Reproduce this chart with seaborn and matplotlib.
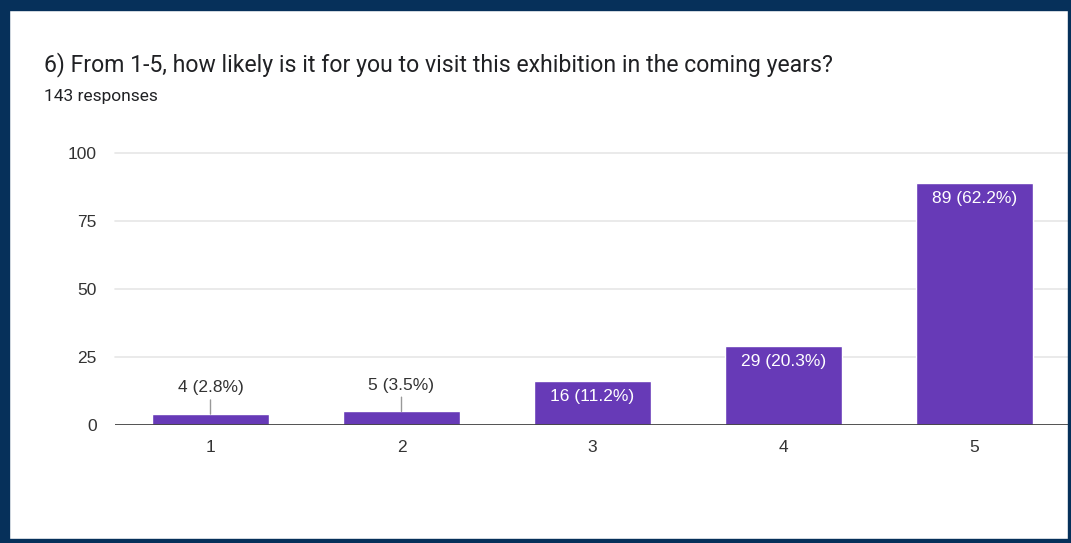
import matplotlib
matplotlib.use("Agg")
import matplotlib.pyplot as plt
import seaborn as sns
import pandas as pd
from matplotlib.patches import Rectangle

ratings = ["1", "2", "3", "4", "5"]
counts = [4, 5, 16, 29, 89]
percents = [2.8, 3.5, 11.2, 20.3, 62.2]
yticks = [0, 25, 50, 75, 100]

title = "6) From 1-5, how likely is it for you to visit this exhibition in the coming years?"
subtitle = "143 responses"

df = pd.DataFrame({"rating": ratings, "count": counts})

sns.set_theme(style="white")
plt.rcParams["font.family"] = ["Liberation Sans", "DejaVu Sans"]

fig = plt.figure(figsize=(10.71, 5.43), dpi=100)
ax = fig.add_axes([115 / 1071, 1 - 425 / 543, 955 / 1071, 272 / 543])

sns.barplot(data=df, x="rating", y="count", color="#673ab7", saturation=1,
            width=0.615, ax=ax, zorder=3)

ax.set_xlim(-0.5, 4.5)
ax.set_ylim(0, 100)
ax.set_yticks(yticks)
ax.set_yticklabels([str(t) for t in yticks])
for t in yticks[1:]:
    ax.axhline(t, color="#e6e6e6", lw=1.2, zorder=1, clip_on=False)
ax.axhline(0, color="#444444", lw=1.3, zorder=4)
for s in ax.spines.values():
    s.set_visible(False)
ax.set_xlabel("")
ax.set_ylabel("")
ax.tick_params(axis="both", length=0, labelsize=12.5, colors="#333333")
ax.tick_params(axis="y", pad=13)
ax.tick_params(axis="x", pad=11)

for i, (c, p) in enumerate(zip(counts, percents)):
    label = f"{c} ({p}%)"
    if c < 10:
        ax.annotate(label, xy=(i, c), xytext=(0, 19), textcoords="offset points",
                    ha="center", va="center", fontsize=12.5, color="#333333",
                    arrowprops=dict(arrowstyle="-", color="#999999", lw=1,
                                    shrinkA=1, shrinkB=0), zorder=5)
    else:
        ax.annotate(label, xy=(i, c), xytext=(0, -11), textcoords="offset points",
                    ha="center", va="center", fontsize=12.5, color="white", zorder=5)

fig.text(44 / 1071, 1 - 65 / 543, title, fontsize=16.6, color="#202124", va="center",
         family=["Roboto", "DejaVu Sans"])
fig.text(44 / 1071, 1 - 96 / 543, subtitle, fontsize=12.5, color="#202124", va="center",
         family=["Roboto", "DejaVu Sans"])

navy = "#06305a"
W, H = 1071, 543
fig.patches.append(Rectangle((0, 0), 9 / W, 1, transform=fig.transFigure, color=navy, zorder=10))
fig.patches.append(Rectangle((0, 1 - 10 / H), 1, 10 / H, transform=fig.transFigure, color=navy, zorder=10))
fig.patches.append(Rectangle((1 - 3 / W, 0), 3 / W, 1, transform=fig.transFigure, color=navy, zorder=10))
fig.patches.append(Rectangle((0, 0), 1, 4 / H, transform=fig.transFigure, color=navy, zorder=10))

fig.savefig("out.png", dpi=100)
